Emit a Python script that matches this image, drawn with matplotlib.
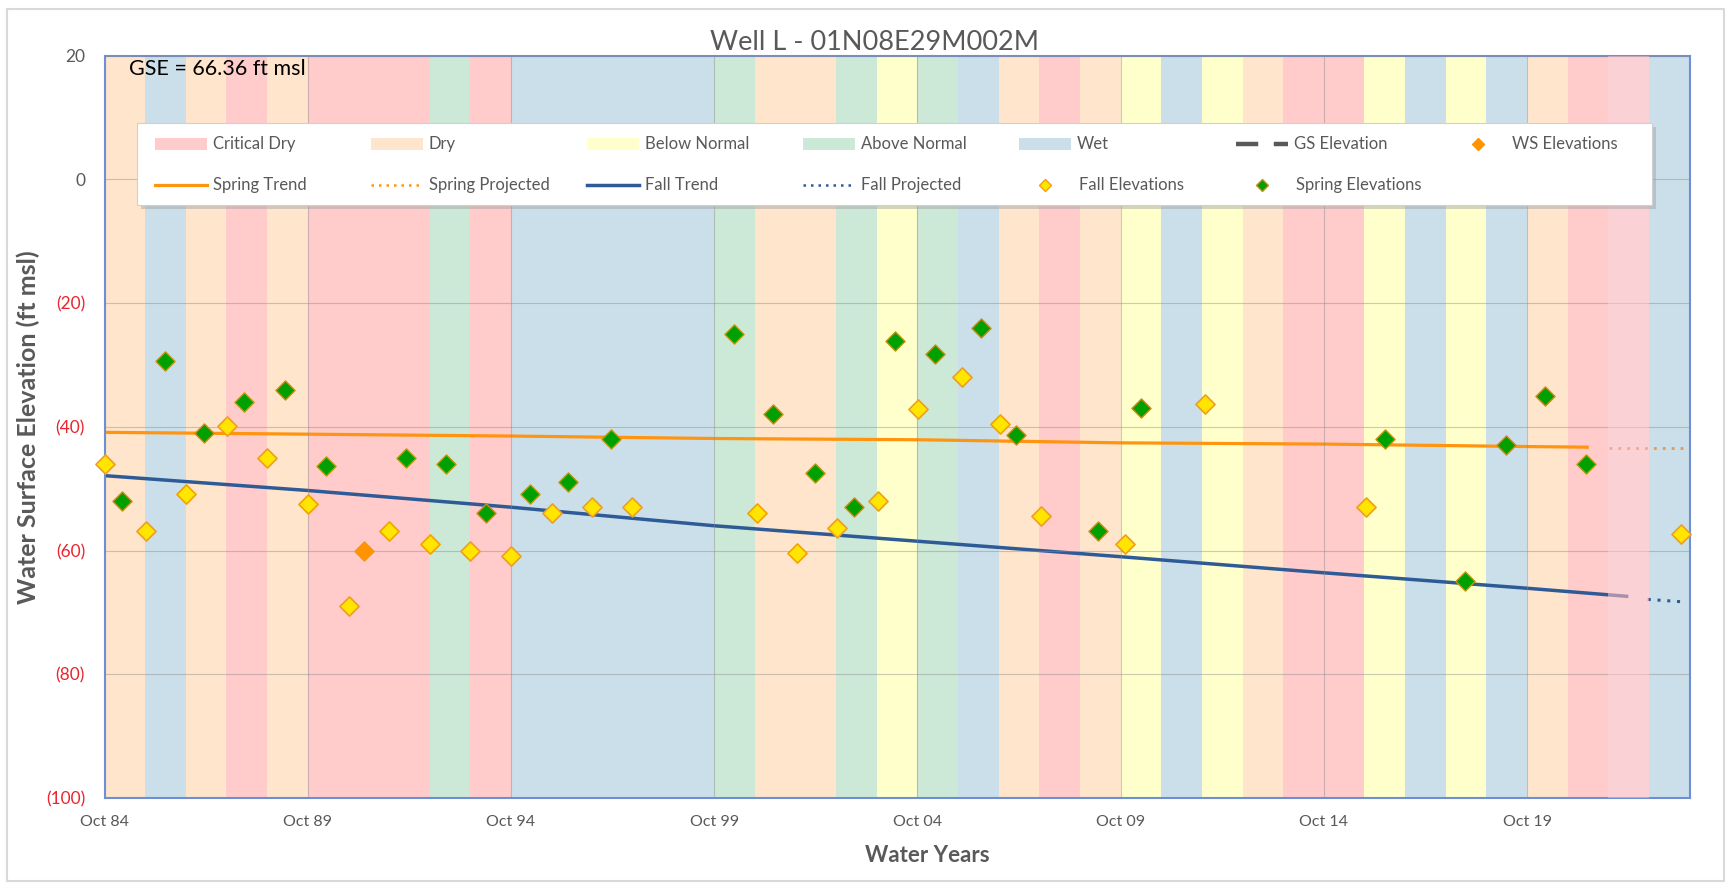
import matplotlib
matplotlib.use("Agg")
import matplotlib.pyplot as plt
from matplotlib.patches import Rectangle
from matplotlib.lines import Line2D
from matplotlib.ticker import FuncFormatter
import math

plt.rcParams['font.family'] = ['Lato', 'DejaVu Sans']

# water year types, WY1985 .. WY2023
water_years = list(range(1985, 2024))
year_types = ['D', 'W', 'D', 'C', 'D', 'C', 'C', 'C', 'AN', 'C',
              'W', 'W', 'W', 'W', 'W', 'AN', 'D', 'D', 'AN', 'BN',
              'AN', 'W', 'D', 'C', 'D', 'BN', 'W', 'BN', 'D', 'C',
              'C', 'BN', 'W', 'BN', 'W', 'D', 'C', 'C', 'W']

# measured elevations (decimal year, ft msl)
fall_x = [1984.76, 1985.76, 1986.76, 1987.77, 1988.74, 1989.76, 1990.77, 1991.76,
          1992.76, 1993.74, 1994.75, 1995.77, 1996.75, 1997.73, 2000.81, 2001.80,
          2002.77, 2003.79, 2004.77, 2005.86, 2006.78, 2007.78, 2009.87, 2011.83,
          2015.79, 2023.55]
fall_y = [-46.0, -56.9, -50.8, -39.9, -45.0, -52.5, -69.0, -56.9,
          -59.0, -60.0, -60.9, -53.9, -53.0, -53.0, -53.9, -60.4,
          -56.4, -52.0, -37.2, -32.0, -39.6, -54.4, -59.0, -36.3,
          -53.0, -57.4]

spring_x = [1985.19, 1986.23, 1987.20, 1988.17, 1989.19, 1990.21, 1992.17, 1993.16,
            1994.14, 1995.22, 1996.16, 1997.21, 2000.25, 2001.20, 2002.24, 2003.19,
            2004.20, 2005.18, 2006.32, 2007.18, 2009.19, 2010.26, 2016.25, 2018.22,
            2019.23, 2020.19, 2021.19]
spring_y = [-52.0, -29.4, -41.0, -36.0, -34.0, -46.4, -45.0, -46.0,
            -53.9, -50.9, -49.0, -42.0, -25.0, -38.0, -47.4, -52.9,
            -26.1, -28.3, -24.0, -41.4, -56.9, -36.9, -42.0, -64.9,
            -42.9, -35.0, -46.0]

ws_x = [1991.14]
ws_y = [-60.0]

# trend lines
spring_trend_x = [1984.75, 1989.75, 1994.75, 1999.75, 2004.75, 2009.75, 2014.75, 2019.75, 2021.23]
spring_trend_y = [-40.9, -41.2, -41.5, -41.9, -42.1, -42.6, -42.8, -43.2, -43.3]
fall_trend_x = [1984.75, 1989.75, 1994.75, 1999.75, 2004.75, 2009.75, 2014.75, 2019.75, 2022.2]
fall_trend_y = [-47.9, -50.3, -53.0, -56.0, -58.5, -61.0, -63.6, -66.1, -67.4]
spring_proj_x = [2021.77, 2023.6]
spring_proj_y = [-43.4, -43.4]
fall_proj_x = [2022.72, 2023.6]
fall_proj_y = [-67.9, -68.3]

gse = 66.36

type_colors = {'C': '#FFCBCB', 'D': '#FEE5CC', 'BN': '#FFFFCC',
               'AN': '#CCE8D7', 'W': '#CBDFEA'}
type_names = {'C': 'Critical Dry', 'D': 'Dry', 'BN': 'Below Normal',
              'AN': 'Above Normal', 'W': 'Wet'}

W, H = 1732, 883
fig = plt.figure(figsize=(W / 100, H / 100), dpi=100)
ax_l, ax_r, ax_t, ax_b = 104.5, 1689.6, 55.5, 798.0
ax = fig.add_axes([ax_l / W, 1 - ax_b / H, (ax_r - ax_l) / W, (ax_b - ax_t) / H])

# year type bands, water year runs Oct (wy-1) .. Sep wy
for wy, t in zip(water_years, year_types):
    if wy == 2022:
        # latest year drawn as a translucent overlay
        ax.axvspan(wy - 0.25, wy + 0.75, color='#F7B5BC', alpha=0.6, lw=0, zorder=3)
    else:
        ax.axvspan(wy - 0.25, wy + 0.75, color=type_colors[t], lw=0, zorder=0)

ax.set_xlim(1984.75, 2023.75)
ax.set_ylim(-100, 20)

xt = [1984.75 + 5 * k for k in range(8)]
ax.set_xticks(xt)
ax.set_xticklabels(['Oct %02d' % (math.floor(v) % 100) for v in xt])
ax.set_yticks(range(-100, 21, 20))
ax.yaxis.set_major_formatter(FuncFormatter(lambda v, p: '(%d)' % abs(v) if v < 0 else '%d' % v))
ax.grid(True, color='#8C8C8C', lw=0.8, alpha=0.45, zorder=1)
ax.set_axisbelow(False)
for gl in ax.get_xgridlines() + ax.get_ygridlines():
    gl.set_zorder(1)
ax.tick_params(length=0, labelcolor='#595959')
ax.tick_params(axis='x', pad=12, labelsize=11.5)
ax.tick_params(axis='y', pad=14, labelsize=12.5)
for lab in ax.get_yticklabels():
    if lab.get_text().startswith('('):
        lab.set_color('#E8262E')
for s in ax.spines.values():
    s.set_color('#6E8FD6')
    s.set_linewidth(1.5)

# trends
ax.plot(spring_trend_x, spring_trend_y, color='#FF9410', lw=2.3, zorder=2)
ax.plot(fall_trend_x, fall_trend_y, color='#2E5B96', lw=2.5, zorder=2)
ax.plot(spring_proj_x, spring_proj_y, color='#E39A50', lw=2.0, ls=(0, (1, 2.2)), zorder=2)
ax.plot(fall_proj_x, fall_proj_y, color='#2E5B96', lw=2.2, ls=(0, (1, 2.2)), zorder=2)

# measurements
ax.scatter(fall_x, fall_y, marker='D', s=95, facecolor='#FFE500', edgecolor='#F0A010', lw=1.2, zorder=5, clip_on=False)
ax.scatter(spring_x, spring_y, marker='D', s=95, facecolor='#00A000', edgecolor='#C89010', lw=1.0, zorder=5, clip_on=False)
ax.scatter(ws_x, ws_y, marker='D', s=95, facecolor='#FF9400', edgecolor='#FF9400', lw=1.0, zorder=5)

ax.text((129 - ax_l) / (ax_r - ax_l), (ax_b - 69) / (ax_b - ax_t), 'GSE = %.2f ft msl' % gse,
        transform=ax.transAxes, fontsize=15.5, color='black', va='center', ha='left', zorder=6)


# legend box, laid out on a fixed column grid
def to_ax(px, py):
    return (px - ax_l) / (ax_r - ax_l), (ax_b - py) / (ax_b - ax_t)


bx0, by0 = to_ax(137, 205)
bx1, by1 = to_ax(1652, 123)
sx, sy = to_ax(141, 209)
ax.add_patch(Rectangle((sx, sy), bx1 - bx0, by1 - by0, transform=ax.transAxes,
                       facecolor='#A0A0A0', alpha=0.45, lw=0, zorder=9, clip_on=False))
ax.add_patch(Rectangle((bx0, by0), bx1 - bx0, by1 - by0, transform=ax.transAxes,
                       facecolor='white', edgecolor='#D0D0D0', lw=0.8, zorder=10, clip_on=False))

col_x = [155, 371, 587, 803, 1019, 1236, 1452]
row_y = [144, 185]
hw = 52


def leg_text(px, py, s):
    x, y = to_ax(px, py)
    ax.text(x, y, s, transform=ax.transAxes, fontsize=12, color='#595959',
            va='center', ha='left', zorder=12)


def leg_patch(col, row, color, label):
    x0, y0 = to_ax(col_x[col], row_y[row] + 5.5)
    x1, y1 = to_ax(col_x[col] + hw, row_y[row] - 5.5)
    ax.add_patch(Rectangle((x0, y0), x1 - x0, y1 - y0, transform=ax.transAxes,
                           facecolor=color, lw=0, zorder=11, clip_on=False))
    leg_text(col_x[col] + hw + 6, row_y[row], label)


def leg_line(col, row, label, **kw):
    x0, y = to_ax(col_x[col], row_y[row])
    x1, _ = to_ax(col_x[col] + hw, row_y[row])
    ax.add_line(Line2D([x0, x1], [y, y], transform=ax.transAxes, zorder=11, clip_on=False, **kw))
    leg_text(col_x[col] + hw + 6, row_y[row], label)


def leg_marker(col, row, label, fc, ec):
    x, y = to_ax(col_x[col] + hw / 2, row_y[row])
    ax.add_line(Line2D([x], [y], transform=ax.transAxes, marker='D', ms=6.5, mfc=fc, mec=ec,
                       mew=1.0, ls='none', zorder=11, clip_on=False))
    leg_text(col_x[col] + hw + 8, row_y[row], label)


for i, t in enumerate(['C', 'D', 'BN', 'AN', 'W']):
    leg_patch(i, 0, type_colors[t], type_names[t])
leg_line(5, 0, 'GS Elevation', color='#595959', lw=3.2, dashes=(5, 3.5))
leg_marker(6, 0, 'WS Elevations', '#FF9400', '#FF9400')
leg_line(0, 1, 'Spring Trend', color='#FF9410', lw=2.3)
leg_line(1, 1, 'Spring Projected', color='#FF9410', lw=1.8, ls=(0, (1, 2)))
leg_line(2, 1, 'Fall Trend', color='#2E5B96', lw=2.5)
leg_line(3, 1, 'Fall Projected', color='#2E5B96', lw=1.8, ls=(0, (1, 2)))
leg_marker(4, 1, 'Fall Elevations', '#FFE500', '#F0A010')
leg_marker(5, 1, 'Spring Elevations', '#00A000', '#C89010')

# titles
fig.text(875 / W, 1 - 42 / H, 'Well L - 01N08E29M002M', fontsize=19.5, color='#595959',
         ha='center', va='center')
fig.text(927 / W, 1 - 855 / H, 'Water Years', fontsize=16, fontweight='bold', color='#595959',
         ha='center', va='center')
fig.text(28 / W, 1 - 427 / H, 'Water Surface Elevation (ft msl)', fontsize=18, fontweight='bold',
         color='#595959', ha='center', va='center', rotation=90)

# chart frame
fig.patches.append(Rectangle((7 / W, 1 - 881 / H), (1724 - 7) / W, (881 - 9) / H,
                             transform=fig.transFigure, fill=False, edgecolor='#D9D9D9', lw=1.5))

fig.savefig('out.png', dpi=100)
